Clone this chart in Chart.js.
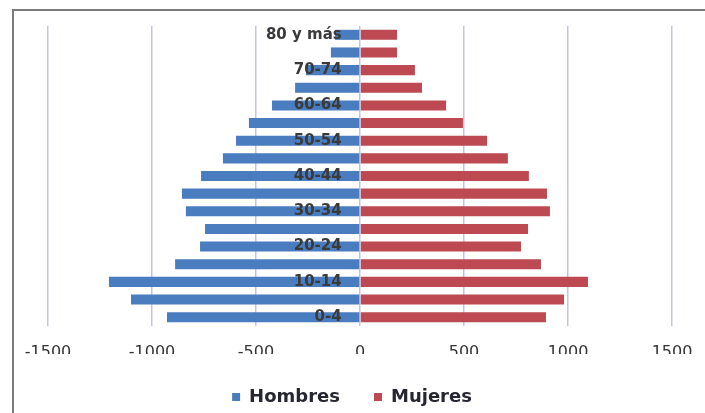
<!DOCTYPE html>
<html lang="es">
<head>
<meta charset="utf-8">
<title>Pirámide de población</title>
<script src="https://cdn.jsdelivr.net/npm/chart.js@4.4.0/dist/chart.umd.min.js"></script>
<style>
  html, body {
    margin: 0;
    padding: 0;
    background: #ffffff;
    overflow: hidden;
  }
  #contenedor {
    position: absolute;
    left: 0;
    top: 0;
    width: 705px;
    height: 420px;
  }
  #marco {
    position: absolute;
    left: 12px;
    top: 9px;
    width: 800px;
    height: 500px;
    border: 2px solid #7a7a7a;
    pointer-events: none;
  }
</style>
</head>
<body>
<div id="contenedor"><canvas id="piramide"></canvas></div>
<div id="marco"></div>

<script>
// Grupos de edad (de abajo arriba)
var edades = ["0-4", "5-9", "10-14", "15-19", "20-24", "25-29", "30-34", "35-39", "40-44",
  "45-49", "50-54", "55-59", "60-64", "65-69", "70-74", "75-79", "80 y más"];

// Hombres van a la izquierda (valores negativos)
var hombres = [-928, -1101, -1207, -889, -769, -745, -837, -856, -764,
  -659, -596, -534, -423, -312, -260, -140, -120];

// Mujeres a la derecha
var mujeres = [894, 981, 1096, 870, 774, 808, 913, 899, 812,
  711, 611, 495, 414, 298, 264, 178, 178];

// Marcas del eje horizontal
var marcasX = [-1500, -1000, -500, 0, 500, 1000, 1500];

// La leyenda va un poco a la izquierda del centro
var desplazaLeyenda = {
  id: "desplazaLeyenda",
  afterLayout: function (chart) {
    chart.legend.left -= 8;
    chart.legend.right -= 8;
  }
};

function cargaPiramide() {
  var datos = {
    labels: edades,
    datasets: [{
      label: "Hombres",
      backgroundColor: "#4a7cc0",
      borderWidth: 0,
      data: hombres
    }, {
      label: "Mujeres",
      backgroundColor: "#bd4a52",
      borderWidth: 0,
      data: mujeres
    }]
  };

  var config = {
    type: "bar",
    data: datos,
    plugins: [desplazaLeyenda],
    options: {
      indexAxis: "y",
      responsive: true,
      maintainAspectRatio: false,
      animation: false,
      categoryPercentage: 1,
      barPercentage: 0.57,
      layout: {
        padding: { left: 48, right: 33, top: 26, bottom: 4 }
      },
      plugins: {
        tooltip: { enabled: false },
        legend: {
          position: "bottom",
          labels: {
            boxWidth: 8,
            boxHeight: 8,
            padding: 34,
            color: "#262633",
            font: { family: "DejaVu Sans", size: 18, weight: "bold" }
          }
        }
      },
      scales: {
        x: {
          stacked: true,
          min: -1500,
          max: 1500,
          afterBuildTicks: function (scale) {
            scale.ticks = marcasX.map(function (v) { return { value: v }; });
          },
          afterFit: function (scale) {
            scale.height = 28;
          },
          ticks: {
            autoSkip: false,
            maxRotation: 0,
            padding: 0,
            color: "#333333",
            font: { family: "DejaVu Sans", size: 16 },
            callback: function (valor) { return String(valor); }
          },
          grid: {
            color: "rgba(150, 156, 214, 0.6)",
            lineWidth: 1.5,
            // marcas invisibles, solo para separar las etiquetas
            drawTicks: true,
            tickLength: 17,
            tickColor: "rgba(0, 0, 0, 0)"
          },
          border: { display: false }
        },
        y: {
          stacked: true,
          reverse: true,
          // el eje se pone un poco a la izquierda del 0 para que las etiquetas no lo toquen
          position: { x: -88 },
          afterFit: function (scale) {
            scale.width = 0;
          },
          ticks: {
            autoSkip: false,
            z: 1,
            color: "#3a3a3a",
            font: { family: "DejaVu Sans", size: 15, weight: "bold" },
            // Solo se ve una etiqueta de cada dos
            callback: function (valor, i) { return i % 2 === 0 ? edades[i] : ""; }
          },
          grid: { display: false },
          border: { display: false }
        }
      }
    }
  };

  var lienzo = document.getElementById("piramide").getContext("2d");
  new Chart(lienzo, config);
}

document.addEventListener("DOMContentLoaded", function () {
  cargaPiramide();
});
</script>
</body>
</html>
